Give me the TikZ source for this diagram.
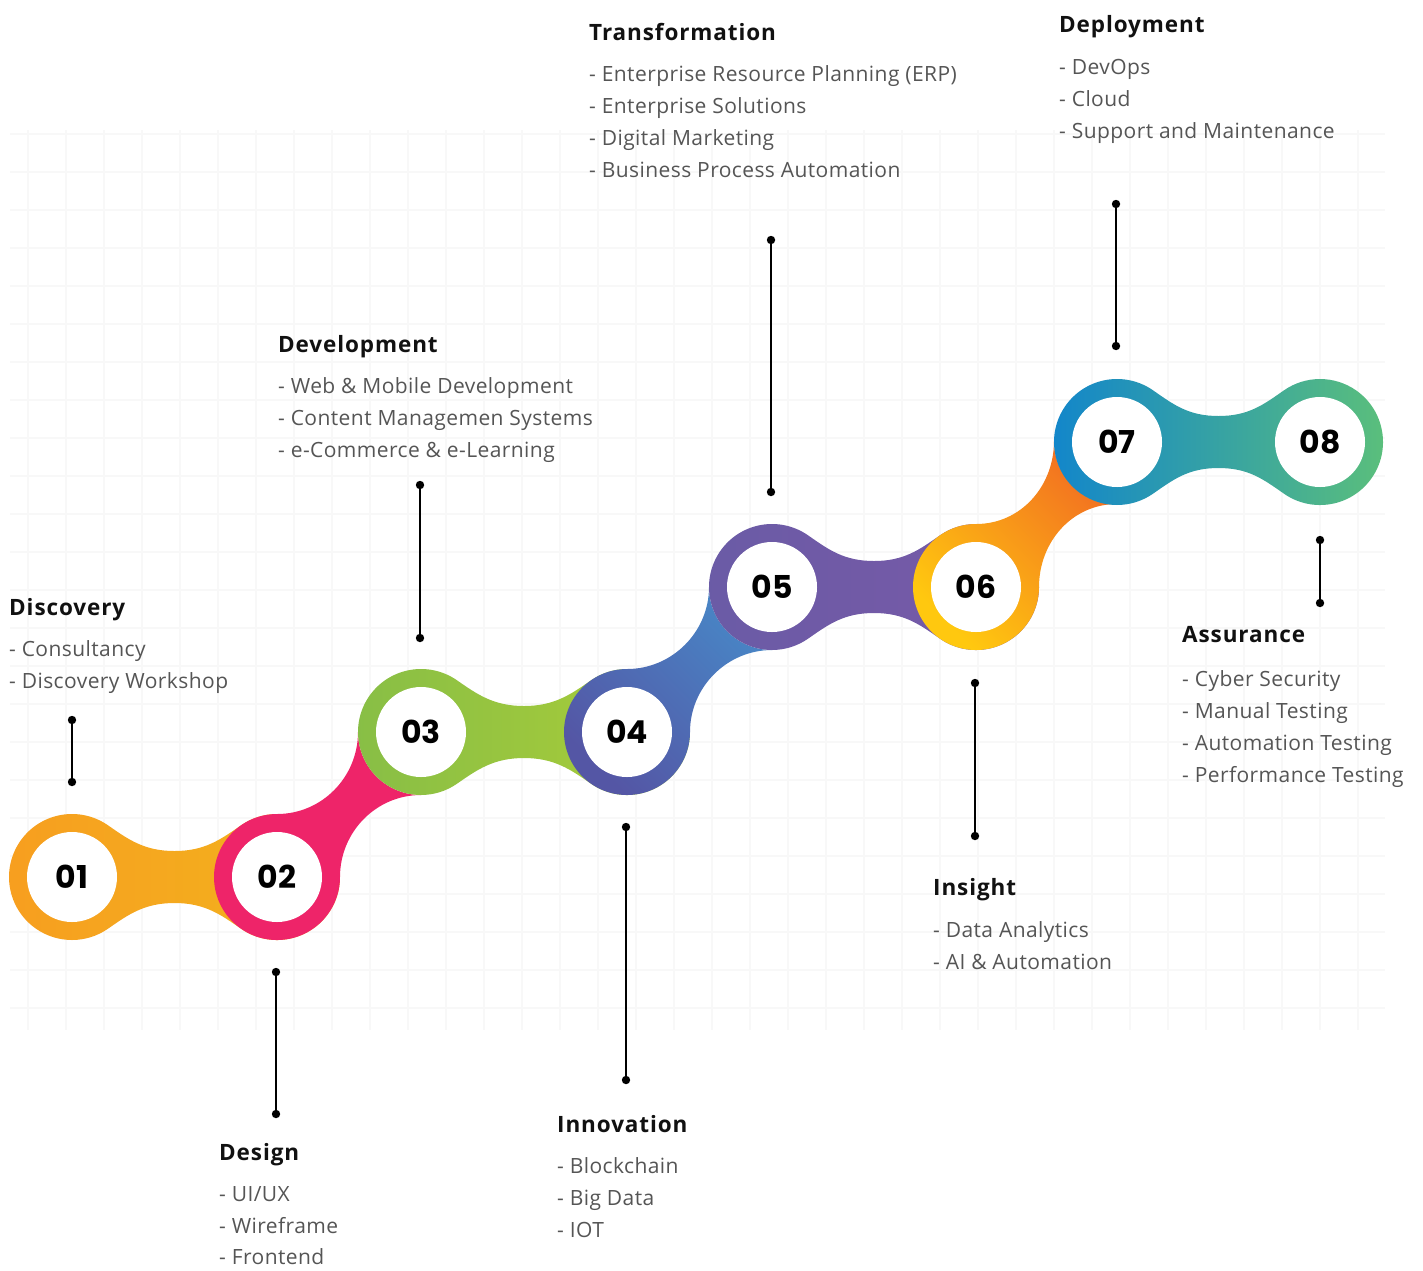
\documentclass[tikz,border=0pt]{standalone}
\usepackage{fontspec}
\setmainfont{Open Sans}[LetterSpace=2]
\newfontfamily\titlefont{Open Sans}[LetterSpace=4]
\newfontfamily\numfont{Poppins}
\definecolor{oA}{HTML}{F79E1F}
\definecolor{oB}{HTML}{F2B41E}
\definecolor{pinkc}{HTML}{EE2469}
\definecolor{gA}{HTML}{87BE46}
\definecolor{gB}{HTML}{ADCE37}
\definecolor{iA}{HTML}{5456A5}
\definecolor{iB}{HTML}{4886C6}
\definecolor{pA}{HTML}{6A5BA6}
\definecolor{pB}{HTML}{7959A7}
\definecolor{yA}{HTML}{FFC80F}
\definecolor{yB}{HTML}{F26F21}
\definecolor{bA}{HTML}{1185CC}
\definecolor{bB}{HTML}{5CC07A}
\definecolor{itemgray}{HTML}{555555}
\definecolor{titleblack}{HTML}{111111}
\definecolor{gridc}{HTML}{F8F8F8}

% horizontal "bone": centres (#1,#3) and (#2,#3)
\newcommand{\bonepath}[3]{%
  (#1+36.14,#3-51.61) arc[start angle=-55, end angle=-305, radius=63]
  .. controls +(20.5,-14.3) and +(-30,0) .. ({(#1+#2)/2},#3+26)
  .. controls +(30,0) and +(-20.5,-14.3) .. (#2-36.14,#3+51.61)
  arc[start angle=125, end angle=-125, radius=63]
  .. controls +(-20.5,14.3) and +(30,0) .. ({(#1+#2)/2},#3-26)
  .. controls +(-30,0) and +(20.5,14.3) .. (#1+36.14,#3-51.61) -- cycle}
% diagonal band: lower circle (#1,#2), upper circle (#3,#4)
\newcommand{\bandpath}[4]{%
  (#1+63,#2) arc[start angle=0, end angle=270, radius=63]
  .. controls +(45,0) and +(0,45) .. (#3-63,#4)
  arc[start angle=180, end angle=90, radius=63]
  .. controls +(-45,0) and +(0,-45) .. (#1+63,#2) -- cycle}

\begin{document}
\begin{tikzpicture}[x=1pt,y=-1pt,
  titletext/.style={anchor=base west, inner sep=0pt, text=titleblack,
    font=\titlefont\fontsize{22.5}{22.5}\selectfont\bfseries},
  itemtext/.style={anchor=base west, inner sep=0pt, text=itemgray,
    font=\fontsize{21}{21}\selectfont},
  numcirc/.style={circle, fill=white, minimum size=90pt, inner sep=0pt,
    text=black, font=\numfont\bfseries\fontsize{31.5}{31.5}\selectfont},
  stem/.style={line width=2.4pt, black},
  dot/.style={fill=black},
  gridline/.style={gridc, line width=2.5pt},
]
\useasboundingbox (0,0) rectangle (1423,1270);

% faint background grid
\foreach \gx in {28,66,...,1390} {\draw[gridline] (\gx,130) -- (\gx,1030);}
\foreach \gy in {134,172,...,1030} {\draw[gridline] (10,\gy) -- (1385,\gy);}

% chain
\shade[left color=oA, right color=oB] \bonepath{72}{277}{877};
\fill[pinkc] \bandpath{277}{877}{421}{732};
\shade[left color=gA, right color=gB] \bonepath{421}{627}{732};
\shade[left color=iA, right color=iB, shading angle=135] \bandpath{627}{732}{772}{587};
\shade[left color=pA, right color=pB] \bonepath{772}{976}{587};
\shade[left color=yA, right color=yB, shading angle=135] \bandpath{976}{587}{1117}{441};
\shade[left color=bA, right color=bB] \bonepath{1117}{1320}{442};

% numbered circles
\node[numcirc] (n1) at (72,877) {01};
\node[numcirc] (n2) at (277,877) {02};
\node[numcirc] (n3) at (421,732) {03};
\node[numcirc] (n4) at (627,732) {04};
\node[numcirc] (n5) at (772,587) {05};
\node[numcirc] (n6) at (976,587) {06};
\node[numcirc] (n7) at (1117,442) {07};
\node[numcirc] (n8) at (1320,442) {08};

% stems with end dots
\coordinate (s1a) at (72,720);   \coordinate (s1b) at (72,782);
\coordinate (s2a) at (276,972);  \coordinate (s2b) at (276,1114);
\coordinate (s3a) at (420,485);  \coordinate (s3b) at (420,638);
\coordinate (s4a) at (626,827);  \coordinate (s4b) at (626,1080);
\coordinate (s5a) at (771,240);  \coordinate (s5b) at (771,492);
\coordinate (s6a) at (975,683);  \coordinate (s6b) at (975,836);
\coordinate (s7a) at (1116,204); \coordinate (s7b) at (1116,346);
\coordinate (s8a) at (1320,540); \coordinate (s8b) at (1320,603);
\foreach \k in {1,...,8} {
  \draw[stem] (s\k a) -- (s\k b);
  \fill[dot] (s\k a) circle (4.2);
  \fill[dot] (s\k b) circle (4.2);
}

% Discovery
\node[titletext] (t1) at (9,615) {Discovery};
\node[itemtext] (t1a) at (9,656) {- Consultancy};
\node[itemtext] (t1b) at (9,688) {- Discovery Workshop};
% Design
\node[titletext] (t2) at (219,1160) {Design};
\node[itemtext] (t2a) at (219,1201) {- UI/UX};
\node[itemtext] (t2b) at (219,1233) {- Wireframe};
\node[itemtext] (t2c) at (219,1264) {- Frontend};
% Development
\node[titletext] (t3) at (278,352) {Development};
\node[itemtext] (t3a) at (278,393) {- Web \& Mobile Development};
\node[itemtext] (t3b) at (278,425) {- Content Managemen Systems};
\node[itemtext] (t3c) at (278,457) {- e-Commerce \& e-Learning};
% Innovation
\node[titletext] (t4) at (557,1132) {Innovation};
\node[itemtext] (t4a) at (557,1173) {- Blockchain};
\node[itemtext] (t4b) at (557,1205) {- Big Data};
\node[itemtext] (t4c) at (557,1237) {- IOT};
% Transformation
\node[titletext] (t5) at (589,40) {Transformation};
\node[itemtext] (t5a) at (589,81) {- Enterprise Resource Planning (ERP)};
\node[itemtext] (t5b) at (589,113) {- Enterprise Solutions};
\node[itemtext] (t5c) at (589,145) {- Digital Marketing};
\node[itemtext] (t5d) at (589,177) {- Business Process Automation};
% Insight
\node[titletext] (t6) at (933,895) {Insight};
\node[itemtext] (t6a) at (933,937) {- Data Analytics};
\node[itemtext] (t6b) at (933,969) {- AI \& Automation};
% Deployment
\node[titletext] (t7) at (1059,32) {Deployment};
\node[itemtext] (t7a) at (1059,74) {- DevOps};
\node[itemtext] (t7b) at (1059,106) {- Cloud};
\node[itemtext] (t7c) at (1059,138) {- Support and Maintenance};
% Assurance
\node[titletext] (t8) at (1182,642) {Assurance};
\node[itemtext] (t8a) at (1182,686) {- Cyber Security};
\node[itemtext] (t8b) at (1182,718) {- Manual Testing};
\node[itemtext] (t8c) at (1182,750) {- Automation Testing};
\node[itemtext] (t8d) at (1182,782) {- Performance Testing};
\end{tikzpicture}
\end{document}
